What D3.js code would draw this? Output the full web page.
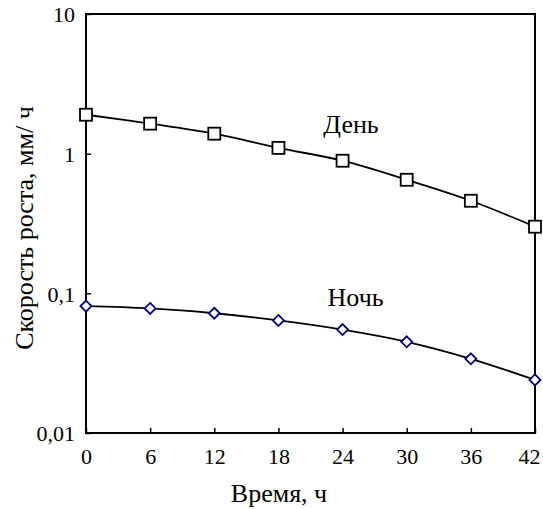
<!DOCTYPE html>
<html>
<head>
<meta charset="utf-8">
<script src="https://cdn.jsdelivr.net/npm/d3@7"></script>
<style>
  body { margin: 0; background: #fff; overflow: hidden; }
  svg { display: block; }
</style>
</head>
<body>
<svg id="chart"></svg>
<script>
const hours = [0, 6, 12, 18, 24, 30, 36, 42];
const dayRate = [1.90, 1.64, 1.39, 1.10, 0.89, 0.65, 0.46, 0.30];
const nightRate = [0.081, 0.078, 0.072, 0.064, 0.055, 0.045, 0.034, 0.024];
const yTicks = [0.01, 0.1, 1, 10];
const yTickLabels = ['0,01', '0,1', '1', '10'];

const font = '"Liberation Serif", "DejaVu Serif", "Times New Roman", serif';
const fs = '22px';      // digits
const fsLabel = '26px'; // cyrillic labels
const w = 543, h = 509;
const margin = {top: 14, right: 8, bottom: 76, left: 86};
const innerWidth = w - margin.left - margin.right;
const innerHeight = h - margin.top - margin.bottom;

const svg = d3.select('#chart')
    .attr('width', w)
    .attr('height', h)
    .style('font-family', font);

const g = svg.append('g')
    .attr('transform', `translate(${margin.left}, ${margin.top})`);

const xScale = d3.scaleLinear()
    .domain([0, 42])
    .range([0, innerWidth]);
const yScale = d3.scaleLog()
    .domain([0.01, 10])
    .range([innerHeight, 0]);

// frame
g.append('rect')
    .attr('width', innerWidth)
    .attr('height', innerHeight)
    .attr('fill', 'none')
    .attr('stroke', '#000')
    .attr('stroke-width', 2);

const xAxis = d3.axisBottom(xScale)
    .tickValues(hours)
    .tickSize(-5)
    .tickPadding(15);
const yAxis = d3.axisLeft(yScale)
    .tickValues(yTicks)
    .tickFormat((d, i) => yTickLabels[i])
    .tickSize(-5)
    .tickPadding(11);

const xAxisG = g.append('g').call(xAxis)
    .attr('transform', `translate(0,${innerHeight})`);
xAxisG.select('.domain').remove();
xAxisG.selectAll('line').attr('stroke', '#000').attr('stroke-width', 1.5);
xAxisG.selectAll('text')
    .style('font-family', font)
    .style('font-size', fs)
    .attr('fill', '#000')
    .attr('dx', d => d === 42 ? -6 : 0);

const yAxisG = g.append('g').call(yAxis);
yAxisG.select('.domain').remove();
yAxisG.selectAll('line').attr('stroke', '#000').attr('stroke-width', 1.5);
yAxisG.selectAll('text')
    .style('font-family', font)
    .style('font-size', fs)
    .attr('fill', '#000')
    .attr('dy', '0.35em');

g.append('text')
    .attr('x', 193)
    .attr('y', innerHeight + 69)
    .attr('text-anchor', 'middle')
    .attr('fill', '#000')
    .style('font-family', font)
    .style('font-size', fsLabel)
    .text('Время, ч');

g.append('text')
    .attr('transform', 'rotate(-90)')
    .attr('x', -(228 - margin.top))
    .attr('y', -53)
    .attr('text-anchor', 'middle')
    .attr('fill', '#000')
    .style('font-family', font)
    .style('font-size', fsLabel)
    .text('Скорость роста, мм/ ч');

const line = d3.line()
    .x(d => xScale(d[0]))
    .y(d => yScale(d[1]))
    .curve(d3.curveCatmullRom.alpha(0.5));

const dayData = hours.map((x, i) => [x, dayRate[i]]);
const nightData = hours.map((x, i) => [x, nightRate[i]]);

g.append('path')
    .datum(dayData)
    .attr('d', line)
    .attr('fill', 'none')
    .attr('stroke', '#000')
    .attr('stroke-width', 1.8);
g.append('path')
    .datum(nightData)
    .attr('d', line)
    .attr('fill', 'none')
    .attr('stroke', '#000')
    .attr('stroke-width', 1.8);

const sq = 12;
g.selectAll('.day').data(dayData)
    .enter().append('rect')
        .attr('class', 'day')
        .attr('x', d => xScale(d[0]) - sq / 2)
        .attr('y', d => yScale(d[1]) - sq / 2)
        .attr('width', sq)
        .attr('height', sq)
        .attr('fill', '#fff')
        .attr('stroke', '#000')
        .attr('stroke-width', 1.8);

const dm = 5.5;
g.selectAll('.night').data(nightData)
    .enter().append('path')
        .attr('class', 'night')
        .attr('d', d => {
            const cx = xScale(d[0]), cy = yScale(d[1]);
            return `M${cx},${cy - dm}L${cx + dm},${cy}L${cx},${cy + dm}L${cx - dm},${cy}Z`;
        })
        .attr('fill', '#fff')
        .attr('stroke', '#000080')
        .attr('stroke-width', 1.8);

g.append('text')
    .attr('x', xScale(22.2))
    .attr('y', yScale(dayRate[4]) - 28)
    .attr('fill', '#000')
    .style('font-family', font)
    .style('font-size', fsLabel)
    .text('День');

g.append('text')
    .attr('x', xScale(22.6))
    .attr('y', yScale(nightRate[4]) - 24)
    .attr('fill', '#000')
    .style('font-family', font)
    .style('font-size', fsLabel)
    .text('Ночь');
</script>
</body>
</html>
